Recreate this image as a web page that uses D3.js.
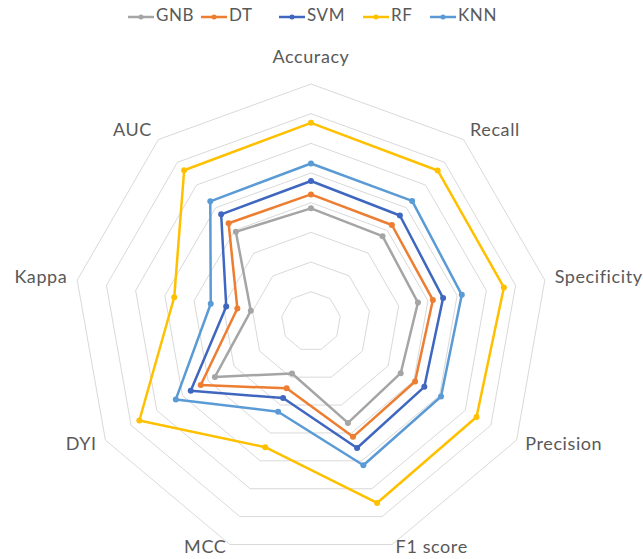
<!DOCTYPE html>
<html><head><meta charset="utf-8">
<script src="https://cdn.jsdelivr.net/npm/d3@7"></script>
<style>
body{margin:0;background:#fff;}
text{font-family:Lato,"Open Sans",sans-serif;fill:#595959;}
</style></head>
<body><svg id="chart" width="643" height="559"></svg>
<script>
const categories = ["Accuracy","Recall","Specificity","Precision","F1 score","MCC","DYI","Kappa","AUC"];
const seriesNames = ["GNB","DT","SVM","RF","KNN"];
const seriesColors = ["#a5a5a5","#ed7d31","#3f67bf","#ffc000","#5b9bd5"];
const GNB = [0.581,0.575,0.566,0.549,0.564,0.387,0.574,0.406,0.594];
const DT  = [0.628,0.624,0.617,0.605,0.614,0.440,0.629,0.452,0.632];
const SVM = [0.673,0.666,0.652,0.641,0.654,0.475,0.668,0.490,0.671];
const RF  = [0.869,0.864,0.860,0.844,0.851,0.651,0.868,0.668,0.865];
const KNN = [0.732,0.730,0.716,0.706,0.716,0.524,0.726,0.543,0.728];
const ringTicks = [0.3,0.4,0.5,0.6,0.7,0.8,0.9,1.0];
const values = [GNB,DT,SVM,RF,KNN];

const svg = d3.select("#chart");
const cx = 311, cy = 321.4, R = 237.4;
const r = d3.scaleLinear().domain([0.2,1.0]).range([0,R]);
const ang = d3.scalePoint().domain(categories).range([0, 2*Math.PI*(categories.length-1)/categories.length]);
const pt = (c,v) => [cx + r(v)*Math.sin(ang(c)), cy - r(v)*Math.cos(ang(c))];

const g = svg.append("g");
ringTicks.forEach(t => {
  g.append("polygon")
    .attr("points", categories.map(c => pt(c,t).join(",")).join(" "))
    .attr("fill","none").attr("stroke","#d9d9d9").attr("stroke-width",1);
});

categories.forEach(c => {
  const a = ang(c), s = Math.sin(a), co = Math.cos(a);
  const rr = R + (co > 0.9 ? 26 : 10);
  const x = cx + rr*s, y = cy - rr*co - (co < -0.9 ? 5 : 0);
  g.append("text").attr("x",x).attr("y",y)
    .attr("text-anchor", s > 0.1 ? "start" : (s < -0.1 ? "end" : "middle"))
    .attr("dominant-baseline","middle")
    .attr("font-size",18).attr("letter-spacing",0.6).text(c);
});

const line = d3.line().curve(d3.curveLinearClosed);
values.forEach((vals,i) => {
  const pts = categories.map((c,j) => pt(c, vals[j]));
  g.append("path").attr("d", line(pts)).attr("fill","none")
    .attr("stroke", seriesColors[i]).attr("stroke-width",2.5).attr("stroke-linejoin","round");
  g.selectAll(null).data(pts).enter().append("circle")
    .attr("cx", d=>d[0]).attr("cy", d=>d[1]).attr("r",3).attr("fill", seriesColors[i]);
});

const legendX = [128, 201, 279, 363, 430];
const lg = svg.append("g");
seriesNames.forEach((n,i) => {
  const x = legendX[i], y = 17;
  lg.append("line").attr("x1",x).attr("x2",x+26).attr("y1",y).attr("y2",y)
    .attr("stroke",seriesColors[i]).attr("stroke-width",2.5);
  lg.append("circle").attr("cx",x+13).attr("cy",y).attr("r",2.5).attr("fill",seriesColors[i]);
  lg.append("text").attr("x",x+28).attr("y",y).attr("dominant-baseline","middle")
    .attr("font-size",17).attr("letter-spacing",0.6).text(n);
});
</script></body></html>
